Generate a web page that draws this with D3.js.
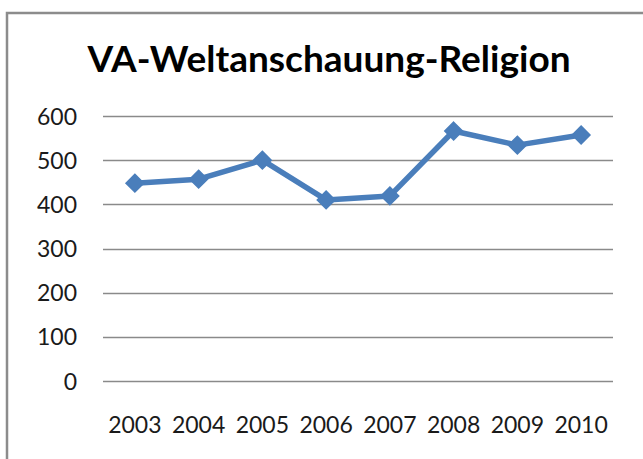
<!DOCTYPE html>
<html>
<head>
<meta charset="utf-8">
<script src="https://cdn.jsdelivr.net/npm/d3@7"></script>
<style>
  body { margin: 0; background: #fff; }
  text { font-family: Lato, "Open Sans", sans-serif; fill: #1a1a1a; }
</style>
</head>
<body>
<div id="chart"></div>
<script>
(function () {

    var width = 643;
    var height = 459;

    // data
    var years = ["2003", "2004", "2005", "2006", "2007", "2008", "2009", "2010"];
    var values = [448, 457, 500, 410, 419, 566, 534, 557];
    var yTicks = [0, 100, 200, 300, 400, 500, 600];
    var title = "VA-Weltanschauung-Religion";

    var margin = {top: 116, right: 30, bottom: 78, left: 103};

    var svg = d3.select("#chart")
        .append("svg")
        .attr("width", width)
        .attr("height", height)

    // chart frame (right and bottom edges fall outside the crop)
    svg.append("path")
        .attr("d", "M7," + height + "V13H" + (width + 2))
        .attr("fill", "none")
        .attr("stroke", "#8c8c8c")
        .attr("stroke-width", 2.5)

    svg.append("text")
        .attr("x", 329)
        .attr("y", 72)
        .attr("text-anchor", "middle")
        .attr("font-size", 37)
        .attr("font-weight", "bold")
        .style("fill", "#000")
        .text(title)

    var x = d3.scaleBand()
        .domain(years)
        .range([margin.left, width - margin.right])

    var y = d3.scaleLinear()
        .domain([0, 600])
        .range([height - margin.bottom, margin.top])

    // gridlines
    svg.append("g")
        .selectAll("line")
        .data(yTicks)
        .enter().append("line")
        .attr("x1", margin.left)
        .attr("x2", width - margin.right)
        .attr("y1", function (d) { return Math.round(y(d)) + 0.5; })
        .attr("y2", function (d) { return Math.round(y(d)) + 0.5; })
        .attr("stroke", "#8a8a8a")
        .attr("stroke-width", 1.3)

    var yAxis = svg.append("g")
        .attr("transform", "translate(" + (margin.left - 26) + ",0)")
        .call(d3.axisLeft(y).tickValues(yTicks).tickSize(0).tickPadding(0))
    yAxis.select(".domain").remove()
    yAxis.selectAll("text")
        .attr("font-size", 23)
        .attr("dy", "0.35em")
        .style("font-family", "Lato, 'Open Sans', sans-serif")
        .style("fill", "#1a1a1a")

    var xAxis = svg.append("g")
        .attr("transform", "translate(0," + y(0) + ")")
        .call(d3.axisBottom(x).tickSize(0).tickPadding(36))
    xAxis.select(".domain").remove()
    xAxis.selectAll("text")
        .attr("font-size", 23)
        .style("font-family", "Lato, 'Open Sans', sans-serif")
        .style("fill", "#1a1a1a")

    var points = years.map(function (yr, i) {
        return {year: yr, value: values[i]};
    })

    var line = d3.line()
        .x(function (d) { return x(d.year) + x.bandwidth() / 2; })
        .y(function (d) { return y(d.value); })

    svg.append("path")
        .datum(points)
        .attr("d", line)
        .attr("fill", "none")
        .attr("stroke", "#4a7ebb")
        .attr("stroke-width", 5.5)
        .attr("stroke-linejoin", "round")

    svg.selectAll(".marker")
        .data(points)
        .enter().append("path")
        .attr("class", "marker")
        .attr("d", d3.symbol().type(d3.symbolDiamond2).size(200))
        .attr("transform", function (d) {
            return "translate(" + (x(d.year) + x.bandwidth() / 2) + "," + y(d.value) + ")";
        })
        .attr("fill", "#4a7ebb")
        .attr("stroke", "#4a7ebb")
        .attr("stroke-width", 1.5)

})();
</script>
</body>
</html>
